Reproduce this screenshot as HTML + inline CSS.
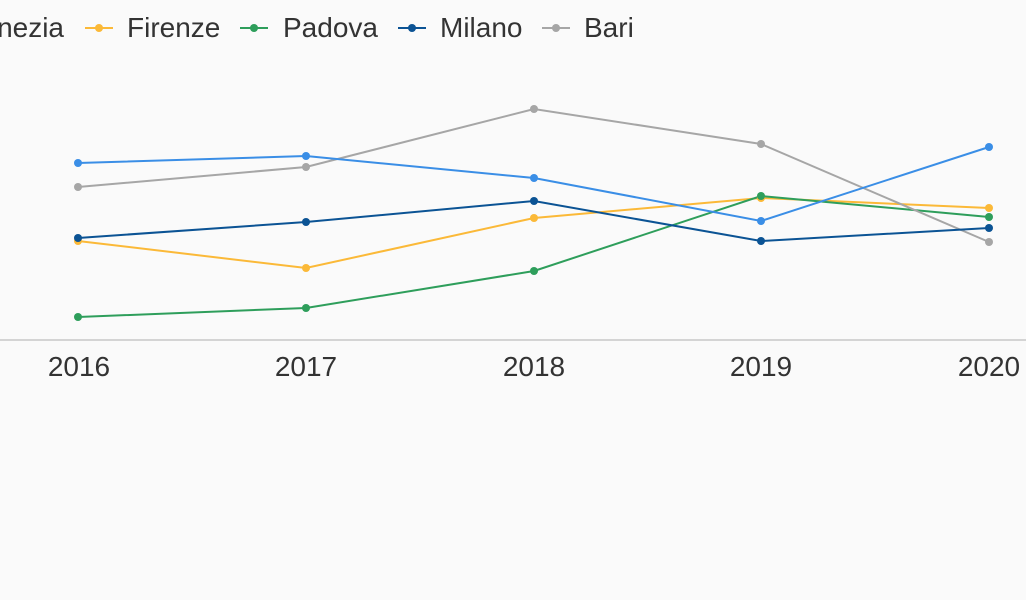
<!DOCTYPE html>
<html><head><meta charset="utf-8"><style>
html,body{margin:0;padding:0;background:#fafafa;}
svg{display:block;font-family:"Liberation Sans",sans-serif;}
</style></head><body>
<svg width="1026" height="600" viewBox="0 0 1026 600">
<rect width="1026" height="600" fill="#fafafa"/>
<g font-size="28" fill="#333">
<text x="64" y="37" text-anchor="end">Venezia</text>
<line x1="85" y1="28" x2="113" y2="28" stroke="#fbb938" stroke-width="2"/><circle cx="99" cy="28" r="4" fill="#fbb938"/>
<text x="127" y="37">Firenze</text>
<line x1="240" y1="28" x2="268" y2="28" stroke="#2e9e5b" stroke-width="2"/><circle cx="254" cy="28" r="4" fill="#2e9e5b"/>
<text x="283" y="37">Padova</text>
<line x1="398" y1="28" x2="426" y2="28" stroke="#0b5394" stroke-width="2"/><circle cx="412" cy="28" r="4" fill="#0b5394"/>
<text x="440" y="37">Milano</text>
<line x1="542" y1="28" x2="570" y2="28" stroke="#a6a6a6" stroke-width="2"/><circle cx="556" cy="28" r="4" fill="#a6a6a6"/>
<text x="584" y="37">Bari</text>
</g>
<line x1="0" y1="340" x2="1026" y2="340" stroke="#d4d4d4" stroke-width="2"/>
<g font-size="28" fill="#333" text-anchor="middle">
<text x="79" y="376">2016</text><text x="306" y="376">2017</text><text x="534" y="376">2018</text><text x="761" y="376">2019</text><text x="989" y="376">2020</text>
</g>
<g fill="none" stroke-width="2">
<polyline stroke="#fbb938" points="78,241 306,268 534,218 761,198 989,208"/>
<polyline stroke="#2e9e5b" points="78,317 306,308 534,271 761,196 989,217"/>
<polyline stroke="#a6a6a6" points="78,187 306,167 534,109 761,144 989,242"/>
<polyline stroke="#3a8ee6" points="78,163 306,156 534,178 761,221 989,147"/>
<polyline stroke="#0b5394" points="78,238 306,222 534,201 761,241 989,228"/>
</g>
<g fill="#fbb938"><circle cx="78" cy="241" r="4"/><circle cx="306" cy="268" r="4"/><circle cx="534" cy="218" r="4"/><circle cx="761" cy="198" r="4"/><circle cx="989" cy="208" r="4"/></g>
<g fill="#2e9e5b"><circle cx="78" cy="317" r="4"/><circle cx="306" cy="308" r="4"/><circle cx="534" cy="271" r="4"/><circle cx="761" cy="196" r="4"/><circle cx="989" cy="217" r="4"/></g>
<g fill="#a6a6a6"><circle cx="78" cy="187" r="4"/><circle cx="306" cy="167" r="4"/><circle cx="534" cy="109" r="4"/><circle cx="761" cy="144" r="4"/><circle cx="989" cy="242" r="4"/></g>
<g fill="#3a8ee6"><circle cx="78" cy="163" r="4"/><circle cx="306" cy="156" r="4"/><circle cx="534" cy="178" r="4"/><circle cx="761" cy="221" r="4"/><circle cx="989" cy="147" r="4"/></g>
<g fill="#0b5394"><circle cx="78" cy="238" r="4"/><circle cx="306" cy="222" r="4"/><circle cx="534" cy="201" r="4"/><circle cx="761" cy="241" r="4"/><circle cx="989" cy="228" r="4"/></g>
</svg>
</body></html>
